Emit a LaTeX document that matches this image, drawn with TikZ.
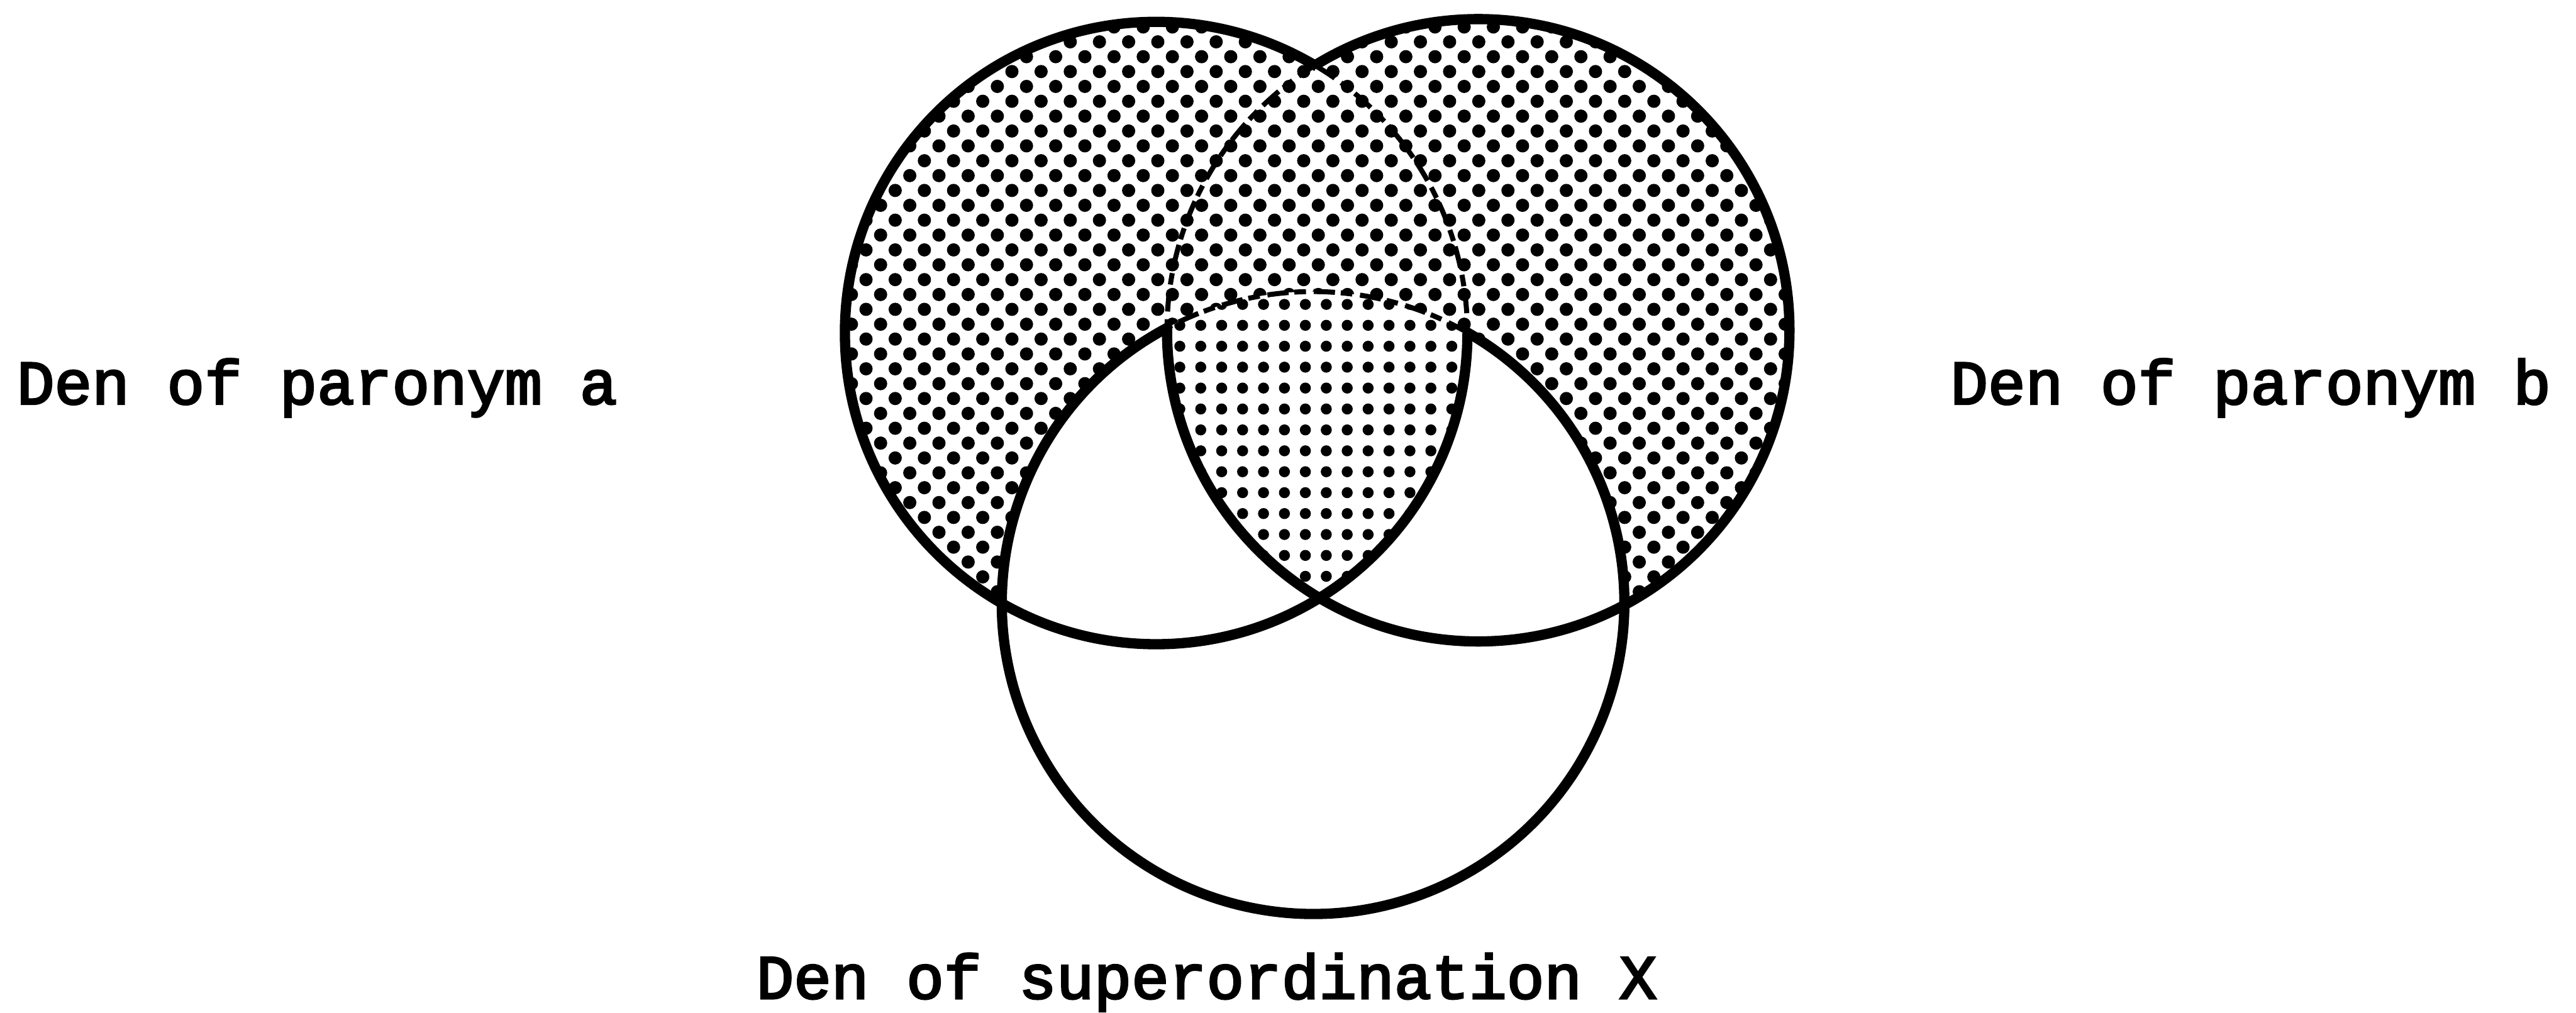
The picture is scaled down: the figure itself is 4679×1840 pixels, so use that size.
\documentclass[tikz,border=0pt]{standalone}
\usepackage{fontspec}
\setmonofont[FakeBold=3.2]{Liberation Mono}
\begin{document}
\begin{tikzpicture}[x=0.01cm,y=0.01cm,
  rim/.style={line width=5.3pt,black},
  brokenrim/.style={line width=2.6pt,black,dash pattern=on 11pt off 4pt on 6pt off 3pt},
  lbl/.style={font=\ttfamily\fontsize{32.3}{32.3}\selectfont,anchor=base west,inner sep=0pt}]
\useasboundingbox (0,0) rectangle (4679,-1840);
\fill[white] (0,0) rectangle (4679,-1840);
\coordinate (cA) at (2100,-605);
\coordinate (cB) at (2685,-600);
\coordinate (cC) at (2385,-1095);
% sparse dots in A union B
\begin{scope}
  \clip (cA) circle[radius=5.65cm] (cB) circle[radius=5.65cm];
  \foreach \j in {0,...,43}{
    \foreach \i in {0,...,33}{
      \fill ({1520+53*\i+26.5*mod(\j,2)},{-(22+27*\j)}) circle[radius=0.12cm];
    }
  }
\end{scope}
% C interior white
\fill[white] (cC) circle[radius=5.65cm];
% dense dots in A cap B cap C
\begin{scope}
  \clip (cA) circle[radius=5.65cm];
  \clip (cB) circle[radius=5.65cm];
  \clip (cC) circle[radius=5.65cm];
  \foreach \j in {0,...,16}{
    \foreach \i in {0,...,15}{
      \fill ({2105+38*\i},{-(515+38*\j)}) circle[radius=0.1cm];
    }
  }
\end{scope}
% circle A
\draw[rim] (cA) ++(0:5.65cm) arc[start angle=0,end angle=-301.1,radius=5.65cm];
\draw[brokenrim] (cA) ++(58.9:5.65cm) arc[start angle=58.9,end angle=0,radius=5.65cm];
% circle B
\draw[rim] (cB) ++(179.6:5.65cm) arc[start angle=179.6,end angle=481.3,radius=5.65cm];
\draw[brokenrim] (cB) ++(121.3:5.65cm) arc[start angle=121.3,end angle=179.6,radius=5.65cm];
% circle C
\draw[rim] (cC) ++(118:5.65cm) arc[start angle=118,end angle=420.3,radius=5.65cm];
\draw[brokenrim] (cC) ++(60.3:5.65cm) arc[start angle=60.3,end angle=118,radius=5.65cm];
% labels
\node[lbl] (la) at (30,-734) {Den of paronym a};
\node[lbl] (lb) at (3542,-734) {Den of paronym b};
\node[lbl] (lx) at (1373,-1814) {Den of superordination X};
\end{tikzpicture}
\end{document}
